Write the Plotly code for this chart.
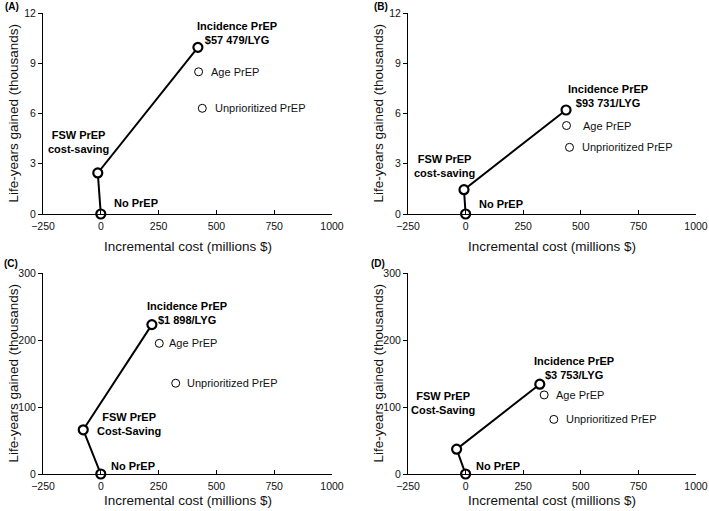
import plotly.graph_objects as go

W, H = 709, 511

# ---------------- data ----------------
panels = ["(A)", "(B)", "(C)", "(D)"]
strategies = ["No PrEP", "FSW PrEP", "Incidence PrEP", "Age PrEP", "Unprioritized PrEP"]

# incremental cost (millions $)
cost_A = [0, -13, 420, 423, 439]
cost_B = [0, -7, 436, 438, 451]
cost_C = [0, -76, 221, 253, 324]
cost_D = [0, -39, 322, 341, 383]

# life-years gained (thousands)
lyg_A = [0, 2.45, 9.95, 8.49, 6.31]
lyg_B = [0, 1.45, 6.21, 5.28, 3.98]
lyg_C = [0, 66, 223, 195, 135.5]
lyg_D = [0, 37, 134, 118, 81.5]

icer_A = "$57 479/LYG"
icer_B = "$93 731/LYG"
icer_C = "$1 898/LYG"
icer_D = "$3 753/LYG"
fsw_A = "cost-saving"
fsw_B = "cost-saving"
fsw_C = "Cost-Saving"
fsw_D = "Cost-Saving"

x_range = [-250, 1000]
x_ticks = [-250, 0, 250, 500, 750, 1000]
x_ticklabels = ["\u2212250", "0", "250", "500", "750", "1000"]
y_range_top = [0, 12]
y_ticks_top = [0, 3, 6, 9, 12]
y_range_bot = [0, 300]
y_ticks_bot = [0, 100, 200, 300]

x_title = "Incremental cost (millions $)"
y_title = "Life-years gained (thousands)"

FONT = "Liberation Sans, Arial, sans-serif"

# ---------------- layout helpers (pixel boxes) ----------------
def xd(a, b):
    return [a / W, b / W]

def yd(top, bottom):
    return [1 - bottom / H, 1 - top / H]

boxes = [
    (xd(43, 332), yd(13, 214)),
    (xd(408, 696), yd(13, 214)),
    (xd(43, 332), yd(273, 474)),
    (xd(408, 696), yd(273, 474)),
]

data = [
    (cost_A, lyg_A, icer_A, fsw_A),
    (cost_B, lyg_B, icer_B, fsw_B),
    (cost_C, lyg_C, icer_C, fsw_C),
    (cost_D, lyg_D, icer_D, fsw_D),
]

# label offsets in px (xshift, yshift) for: incidence, fsw, no prep, age, unprioritized
offsets = [
    dict(inc=(39, 14), fsw=(-19, 31), no=(11, 11), age=(10, 0), unp=(11, 0)),
    dict(inc=(42, 14), fsw=(-19, 24), no=(11, 10), age=(14, 0), unp=(10, 0)),
    dict(inc=(35, 12), fsw=(46, 6), no=(8, 8), age=(8, 0), unp=(9, 0)),
    dict(inc=(34, 16), fsw=(-14, 46), no=(8, 8), age=(10, 0), unp=(10, 0)),
]
panel_label_pos = [(3, 6), (372, 6), (2, 263), (369, 263)]
xtitle_shift = [-32, -32, -26, -26]

fig = go.Figure()
annotations = []
layout = {}

for i in range(4):
    n = "" if i == 0 else str(i + 1)
    xa, ya = "x" + n, "y" + n
    cx, ly, icer, fswtxt = data[i]
    top = i < 2
    yr = y_range_top if top else y_range_bot
    yt = y_ticks_top if top else y_ticks_bot

    # efficiency frontier line: No PrEP -> FSW -> Incidence
    fig.add_trace(go.Scatter(
        x=cx[:3], y=ly[:3], mode="lines+markers",
        line=dict(color="black", width=2),
        marker=dict(symbol="circle", size=9, color="white",
                    line=dict(color="black", width=2.2)),
        xaxis=xa, yaxis=ya, showlegend=False, cliponaxis=False,
    ))
    # dominated strategies
    fig.add_trace(go.Scatter(
        x=cx[3:], y=ly[3:], mode="markers",
        marker=dict(symbol="circle", size=8, color="white",
                    line=dict(color="black", width=1)),
        xaxis=xa, yaxis=ya, showlegend=False, cliponaxis=False,
    ))

    xdom, ydom = boxes[i]
    layout["xaxis" + n] = dict(
        domain=xdom, range=x_range, tickvals=x_ticks, ticktext=x_ticklabels,
        showgrid=False, zeroline=False, showline=True, linecolor="black",
        linewidth=1, ticks="inside", ticklen=4, tickcolor="black",
        tickfont=dict(family=FONT, size=10.5, color="#111"), anchor=ya,
        fixedrange=True, automargin=False, ticklabelstandoff=2,
    )
    layout["yaxis" + n] = dict(
        domain=ydom, range=yr, tickvals=yt,
        showgrid=False, zeroline=False, showline=True, linecolor="black",
        linewidth=1, ticks="outside", ticklen=4, tickcolor="black",
        tickfont=dict(family=FONT, size=10.5, color="#111"), anchor=xa,
        fixedrange=True, automargin=False,
    )

    o = offsets[i]
    axref = dict(xref=xa, yref=ya, showarrow=False)
    bold = dict(family=FONT, size=11, color="black")
    annotations.append(dict(x=cx[2], y=ly[2], text="<b>Incidence PrEP<br>" + icer + "</b>",
                            xshift=o["inc"][0], yshift=o["inc"][1], xanchor="center",
                            yanchor="middle", align="center", font=bold, **axref))
    annotations.append(dict(x=cx[1], y=ly[1], text="<b>FSW PrEP<br>" + fswtxt + "</b>",
                            xshift=o["fsw"][0], yshift=o["fsw"][1], xanchor="center",
                            yanchor="middle", align="center", font=bold, **axref))
    annotations.append(dict(x=cx[0], y=ly[0], text="<b>No PrEP</b>",
                            xshift=o["no"][0], yshift=o["no"][1], xanchor="left",
                            yanchor="middle", font=bold, **axref))
    annotations.append(dict(x=cx[3], y=ly[3], text="Age PrEP",
                            xshift=o["age"][0], yshift=o["age"][1], xanchor="left",
                            yanchor="middle", font=dict(family=FONT, size=11, color="#111"), **axref))
    annotations.append(dict(x=cx[4], y=ly[4], text="Unprioritized PrEP",
                            xshift=o["unp"][0], yshift=o["unp"][1], xanchor="left",
                            yanchor="middle", font=dict(family=FONT, size=11, color="#111"), **axref))

    # axis titles
    annotations.append(dict(x=0.5, y=0, xref=xa + " domain", yref=ya + " domain",
                            text=x_title, showarrow=False, xanchor="center", yanchor="middle",
                            yshift=xtitle_shift[i], font=dict(family=FONT, size=13.5, color="#111")))
    annotations.append(dict(x=0, y=0.5, xref=xa + " domain", yref=ya + " domain",
                            text=y_title, showarrow=False, textangle=-90, xanchor="center",
                            yanchor="middle", xshift=-30, font=dict(family=FONT, size=13.5, color="#111")))
    # panel label
    px, py = panel_label_pos[i]
    annotations.append(dict(x=px / W, y=1 - py / H, xref="paper", yref="paper",
                            text="<b>" + panels[i] + "</b>", showarrow=False,
                            xanchor="left", yanchor="middle",
                            font=dict(family=FONT, size=10, color="black")))

fig.update_layout(
    width=W, height=H, margin=dict(l=0, r=0, t=0, b=0, pad=0, autoexpand=False),
    paper_bgcolor="white", plot_bgcolor="white",
    annotations=annotations, **layout,
)

fig.write_html("out.html", config={"displayModeBar": False},
               post_script="document.body.style.margin='0';document.body.style.padding='0';")
